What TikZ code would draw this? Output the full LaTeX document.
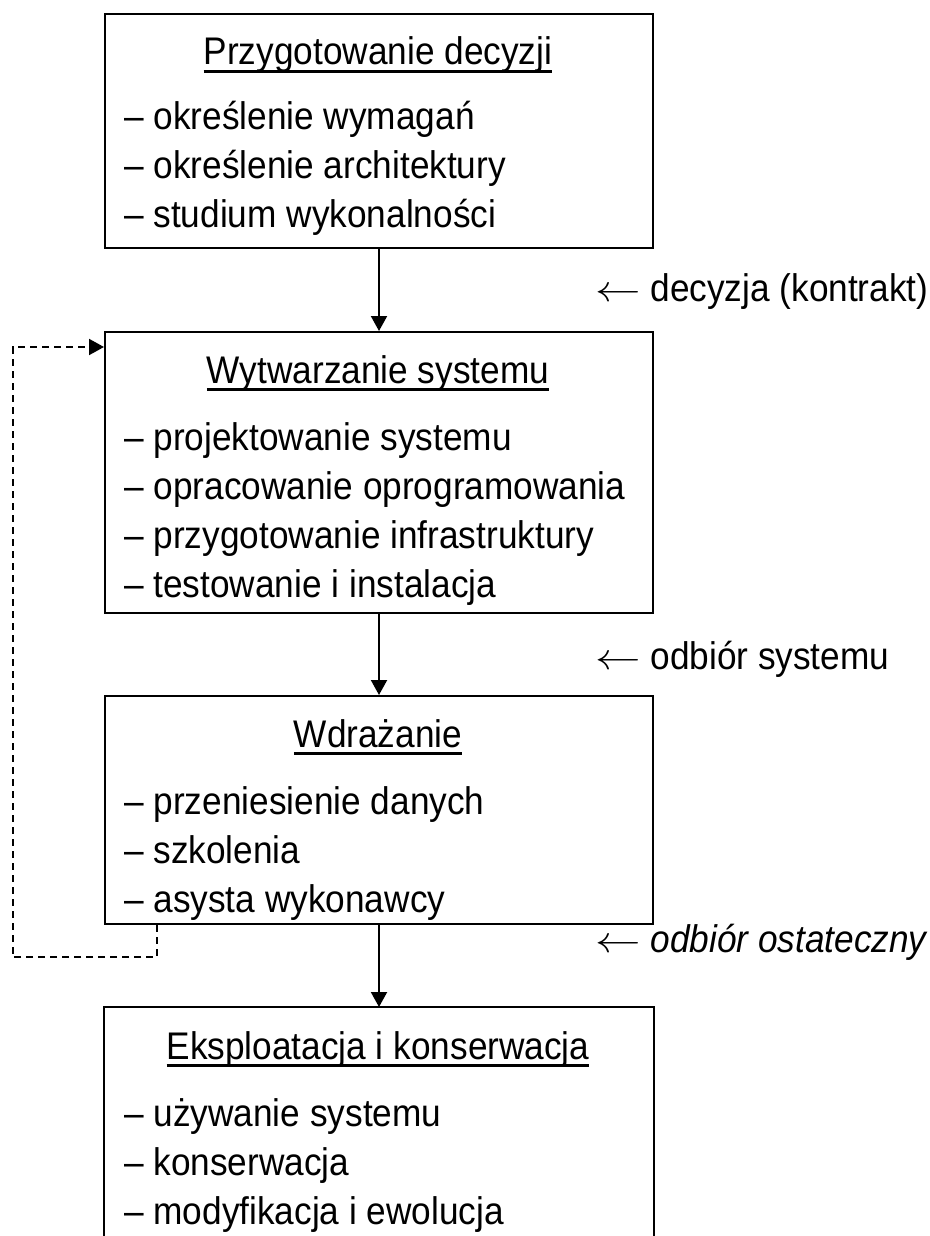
\documentclass[tikz,border=0pt]{standalone}
\usepackage{graphicx}
\usepackage{fontspec}
\setmainfont[FakeStretch=0.915]{Liberation Sans}
\usetikzlibrary{arrows.meta}

% underlined heading: a thick rule crossing the descenders
\newcommand\headline[1]{\setbox0\hbox{#1}\rlap{\rule[-0.22em]{\wd0}{0.09em}}\box0}
% stretched math arrow used in the milestone labels
\newcommand\milearrow{{\fontsize{10}{12}\selectfont\scalebox{4.55}[3.7]{$\leftarrow$}}\ }

\begin{document}
\begin{tikzpicture}[x=1pt,y=-1pt,
  txt/.style={inner sep=0pt,font=\fontsize{38.5}{46}\selectfont},
  phase/.style={draw,line width=2pt,minimum width=548pt,anchor=north west,inner sep=0pt},
  ttl/.style={txt,anchor=base},
  itm/.style={txt,anchor=base west},
  lbl/.style={txt,anchor=base west},
  flow/.style={line width=2pt,-{Triangle[length=15pt,width=16pt]}},
  back/.style={flow,dash pattern=on 7pt off 5pt}]
\useasboundingbox (0,0) rectangle (929,1236);

% phase boxes
\node[phase,minimum height=234pt] (b1) at (104,13) {};
\node[phase,minimum height=281pt] (b2) at (104,331) {};
\node[phase,minimum height=228pt] (b3) at (104,695) {};
\node[phase,draw=none,minimum height=229pt] (b4) at (104,1007) {};
\draw[line width=2pt] (b4.south west) -- (b4.north west) -- (b4.north east) -- (b4.south east);

% box 1
\node[ttl] (t1) at (378,65) {\headline{Przygotowanie decyzji}};
\node[itm] (i11) at (124,129) {– określenie wymagań};
\node[itm] (i12) at (124,178) {– określenie architektury};
\node[itm] (i13) at (124,227) {– studium wykonalności};

% box 2
\node[ttl] (t2) at (378,383) {\headline{Wytwarzanie systemu}};
\node[itm] (i21) at (124,450) {– projektowanie systemu};
\node[itm] (i22) at (124,499) {– opracowanie oprogramowania};
\node[itm] (i23) at (124,548) {– przygotowanie infrastruktury};
\node[itm] (i24) at (124,597) {– testowanie i instalacja};

% box 3
\node[ttl] (t3) at (378,747) {\headline{Wdrażanie}};
\node[itm] (i31) at (124,814) {– przeniesienie danych};
\node[itm] (i32) at (124,863) {– szkolenia};
\node[itm] (i33) at (124,912) {– asysta wykonawcy};

% box 4
\node[ttl] (t4) at (378,1059) {\headline{Eksploatacja i konserwacja}};
\node[itm] (i41) at (124,1126) {– używanie systemu};
\node[itm] (i42) at (124,1175) {– konserwacja};
\node[itm] (i43) at (124,1224) {– modyfikacja i ewolucja};

% transitions
\draw[flow] (b1.south) -- (b2.north);
\draw[flow] (b2.south) -- (b3.north);
\draw[flow] (b3.south) -- (b4.north);

% milestone labels
\node[lbl] (l1) at (595,301) {\milearrow decyzja (kontrakt)};
\node[lbl] (l2) at (595,669) {\milearrow odbiór systemu};
\node[lbl] (l3) at (595,952) {\milearrow \textit{odbiór ostateczny}};

% feedback loop from deployment back to development
\coordinate (d0) at ([xshift=53pt]b3.south west);
\coordinate (dl) at (12.5,957);
\draw[back] (d0) |- (dl) |- ([yshift=-16pt]b2.north west);
\end{tikzpicture}
\end{document}
